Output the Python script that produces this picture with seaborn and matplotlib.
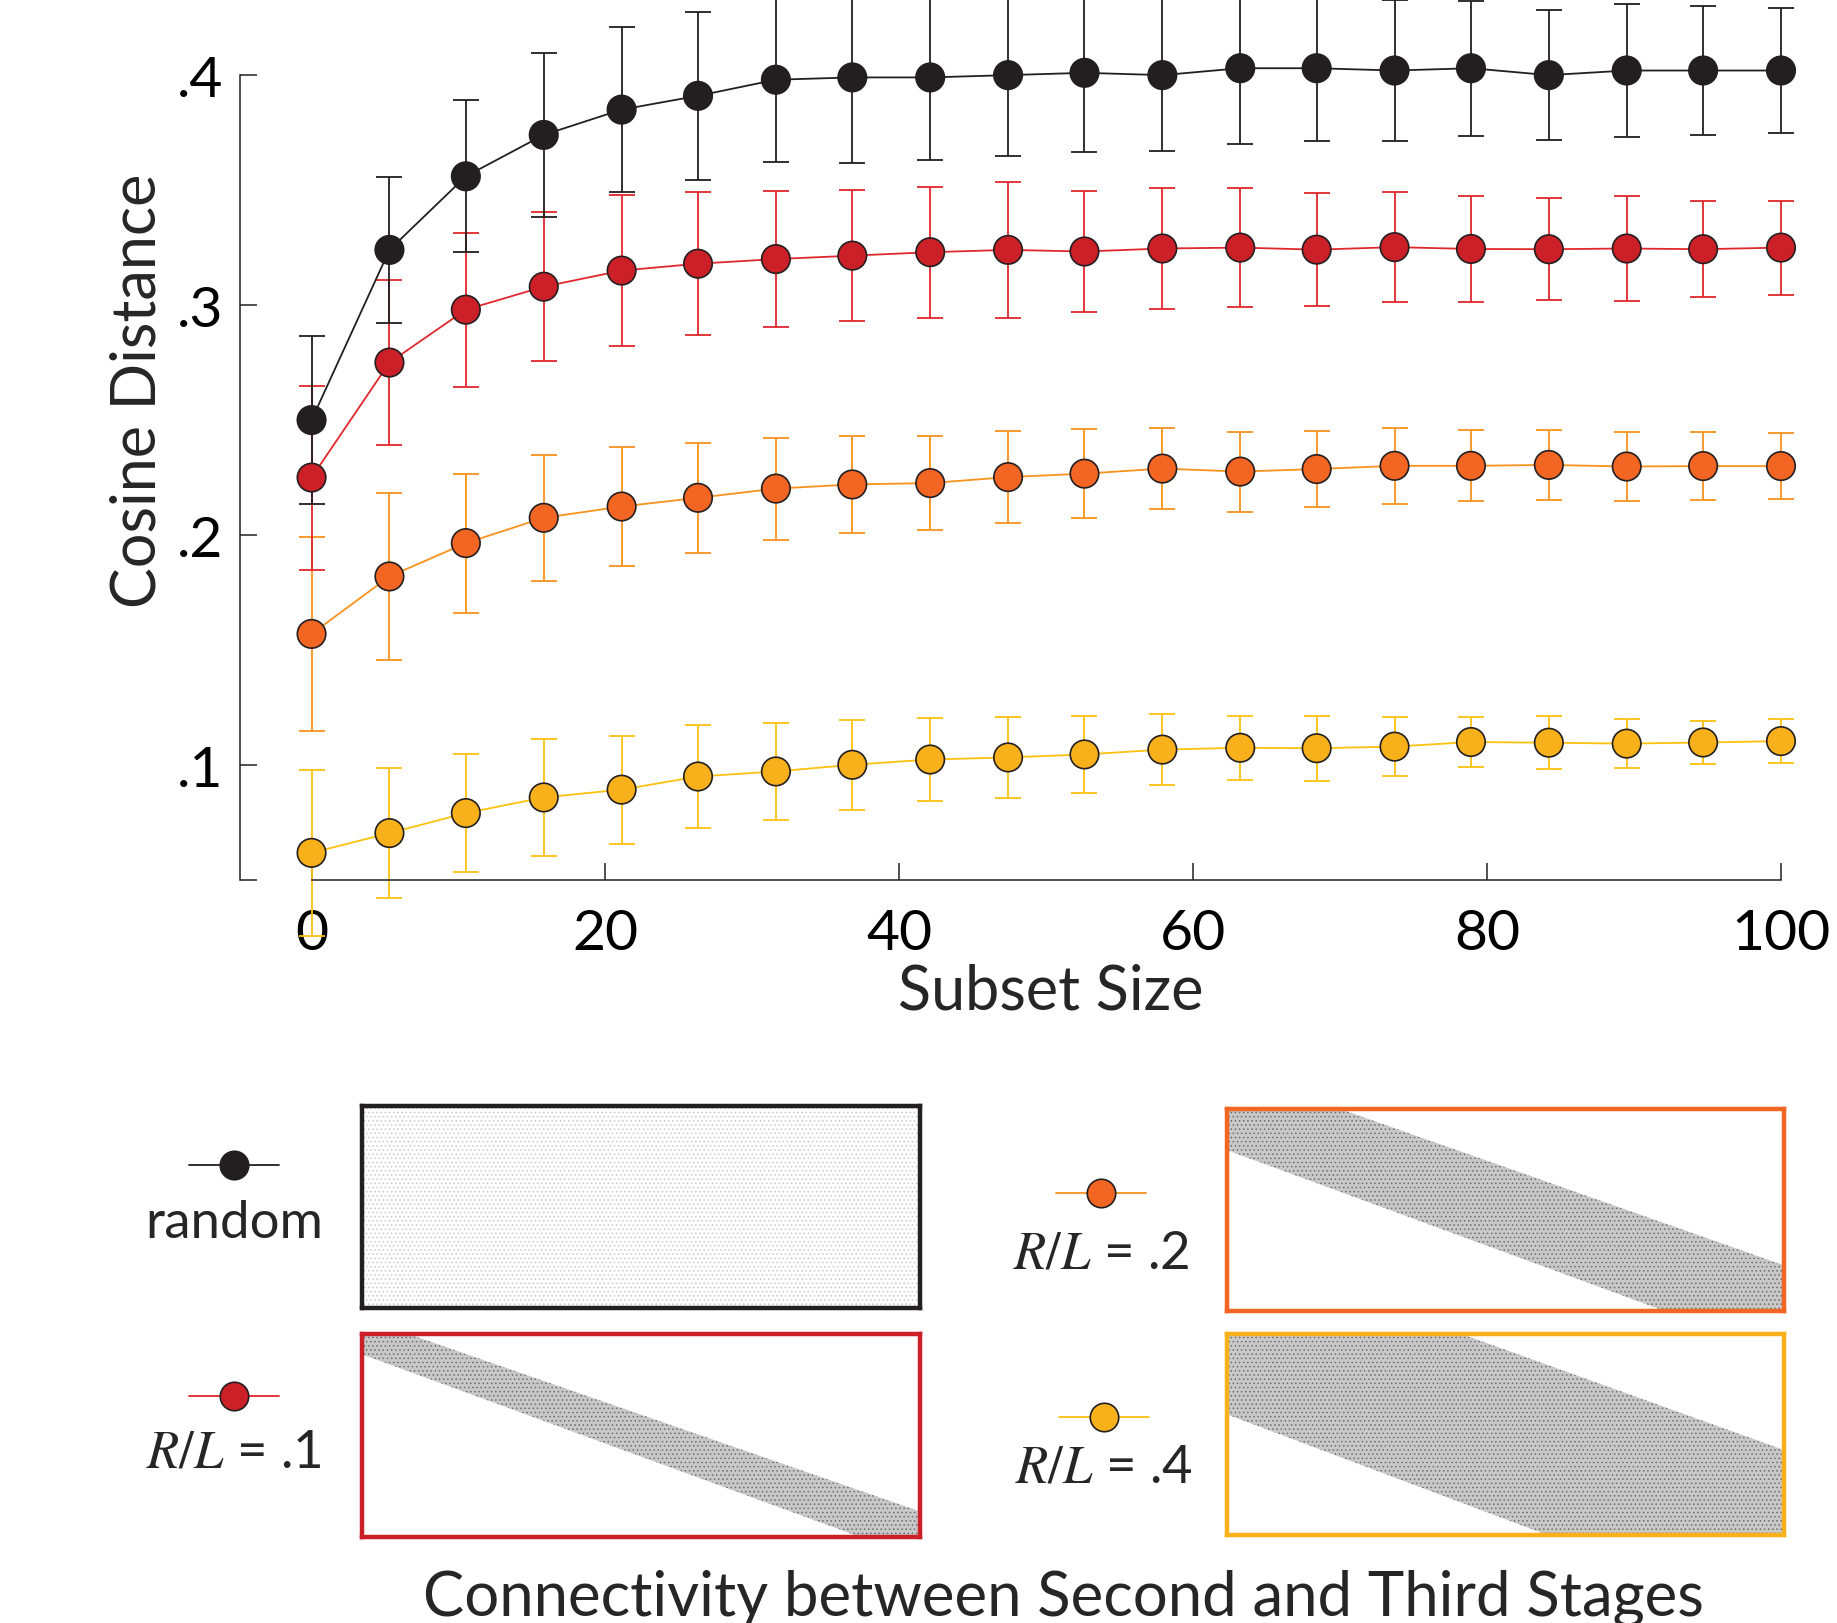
import matplotlib
matplotlib.use("Agg")
import matplotlib.pyplot as plt
from matplotlib.patches import Polygon
import pandas as pd
import seaborn as sns

# ---- data ----
subset_size = [0, 5.3, 10.5, 15.8, 21.1, 26.3, 31.6, 36.8, 42.1, 47.4,
               52.6, 57.9, 63.2, 68.4, 73.7, 78.9, 84.2, 89.5, 94.7, 100]

random_mean = [0.250, 0.324, 0.356, 0.374, 0.385, 0.391, 0.398, 0.399, 0.399, 0.400,
               0.401, 0.400, 0.403, 0.403, 0.402, 0.403, 0.400, 0.402, 0.402, 0.402]
random_err = [0.0367, 0.0318, 0.033, 0.0355, 0.036, 0.0364, 0.0356, 0.0372, 0.0359, 0.0351,
              0.0345, 0.033, 0.0328, 0.0318, 0.0307, 0.0294, 0.0281, 0.0289, 0.0281, 0.0271]

rl1_mean = [0.225, 0.275, 0.298, 0.308, 0.315, 0.318, 0.320, 0.3215, 0.323, 0.324,
            0.3233, 0.3246, 0.325, 0.3241, 0.3252, 0.3244, 0.3243, 0.3246, 0.3243, 0.325]
rl1_err = [0.040, 0.0358, 0.0335, 0.0323, 0.0328, 0.031, 0.0296, 0.0286, 0.0284, 0.0297,
           0.0264, 0.0261, 0.026, 0.0246, 0.024, 0.0229, 0.0223, 0.0227, 0.021, 0.0204]

rl2_mean = [0.157, 0.182, 0.1965, 0.2075, 0.2124, 0.2162, 0.2202, 0.222, 0.2226, 0.2252,
            0.2267, 0.2289, 0.2276, 0.2287, 0.2301, 0.2301, 0.2305, 0.2298, 0.230, 0.230]
rl2_err = [0.0423, 0.0364, 0.0302, 0.0274, 0.0257, 0.0239, 0.0222, 0.021, 0.0203, 0.0199,
           0.0192, 0.0175, 0.0174, 0.0167, 0.0165, 0.0155, 0.0151, 0.0152, 0.0146, 0.0144]

rl4_mean = [0.0618, 0.0704, 0.0791, 0.0859, 0.0893, 0.095, 0.0972, 0.1001, 0.1024, 0.1033,
            0.1046, 0.1067, 0.1075, 0.1073, 0.108, 0.110, 0.1097, 0.1093, 0.1098, 0.1104]
rl4_err = [0.0361, 0.0281, 0.0258, 0.0254, 0.0235, 0.0223, 0.0211, 0.0196, 0.018, 0.0177,
           0.0167, 0.0153, 0.0139, 0.0142, 0.0128, 0.0108, 0.0114, 0.0108, 0.0094, 0.0097]

conditions = ["random", "R/L = .1", "R/L = .2", "R/L = .4"]
legend_labels = ["random", "$R/L$ = .1", "$R/L$ = .2", "$R/L$ = .4"]
x_ticks = [0, 20, 40, 60, 80, 100]
y_ticks = [0.05, 0.1, 0.2, 0.3, 0.4]
y_tick_labels = ["", ".1", ".2", ".3", ".4"]

# connectivity band outlines (fraction of panel width / height from top-left)
band_rl1 = [(0, 0), (0.083, 0), (1, 0.874), (1, 1), (0.893, 1), (0, 0.10)]
band_rl2 = [(0, 0), (0.203, 0), (1, 0.774), (1, 1), (0.786, 1), (0, 0.204)]
band_rl4 = [(0, 0), (0.421, 0), (1, 0.577), (1, 1), (0.575, 1), (0, 0.40)]

face_colors = {"random": "#231f20", "R/L = .1": "#cb2027",
               "R/L = .2": "#f26522", "R/L = .4": "#f8b11a"}
line_colors = {"random": "#231f20", "R/L = .1": "#e0282c",
               "R/L = .2": "#f7921e", "R/L = .4": "#fcc20e"}
edge = "#231f20"

means = dict(zip(conditions, [random_mean, rl1_mean, rl2_mean, rl4_mean]))
errs = dict(zip(conditions, [random_err, rl1_err, rl2_err, rl4_err]))

df = pd.DataFrame({
    "subset": subset_size * 4,
    "dist": random_mean + rl1_mean + rl2_mean + rl4_mean,
    "cond": [c for c in conditions for _ in subset_size],
})

sns.set_theme(style="white")
plt.rcParams["font.family"] = ["Lato", "DejaVu Sans"]
plt.rcParams["mathtext.fontset"] = "stix"
plt.rcParams["hatch.linewidth"] = 0.6

W, H = 1837, 1624
fig = plt.figure(figsize=(W / 100, H / 100), dpi=100)


def px_axes(x0, y0, x1, y1):
    """Axes placed by pixel box (top-left origin)."""
    return fig.add_axes([x0 / W, 1 - y1 / H, (x1 - x0) / W, (y1 - y0) / H])


ax = px_axes(240, 0, 1781, 881)

for cond in reversed(conditions):
    eb = ax.errorbar(subset_size, means[cond], yerr=errs[cond], fmt="none",
                     ecolor=line_colors[cond], elinewidth=1.3, capsize=9.5,
                     capthick=1.3, zorder=2)
    for art in eb.get_children():
        art.set_clip_on(False)

sns.lineplot(data=df, x="subset", y="dist", hue="cond", hue_order=conditions[::-1],
             palette=line_colors, linewidth=1.3, legend=False, sort=False,
             ax=ax, zorder=3)
sns.scatterplot(data=df, x="subset", y="dist", hue="cond", hue_order=conditions[::-1],
                palette=face_colors, s=420, edgecolor=edge, linewidth=1.2,
                legend=False, ax=ax, zorder=4, clip_on=False)

ax.set_xlim(-4.87, 100)
ax.set_ylim(0.05, 0.4331)
sns.despine(ax=ax)
ax.spines["left"].set_bounds(0.05, 0.4)
ax.spines["bottom"].set_bounds(0, 100)
for sp in ("left", "bottom"):
    ax.spines[sp].set_linewidth(1.1)
    ax.spines[sp].set_color("#231f20")
ax.set_xticks(x_ticks)
ax.set_xticklabels([str(t) for t in x_ticks])
ax.set_yticks(y_ticks)
ax.set_yticklabels(y_tick_labels)
ax.tick_params(axis="both", direction="in", length=12, width=1.1, colors="#231f20",
               labelsize=41, labelcolor="black", left=True, bottom=True)
ax.tick_params(axis="x", pad=20)
ax.tick_params(axis="y", pad=12)
ax.set_xlabel("")
ax.set_ylabel("")

# overlay in pixel coordinates for labels and the key
ov = px_axes(0, 0, W, H)
ov.set_xlim(0, W)
ov.set_ylim(H, 0)
ov.axis("off")
ov.set_zorder(-1)

ov.text(1051, 992, "Subset Size", fontsize=44, ha="center", va="center")
ov.text(138, 391, "Cosine Distance", fontsize=44, ha="center", va="center", rotation=90)
ov.text(1063, 1598, "Connectivity between Second and Third Stages", fontsize=44.5,
        ha="center", va="center")

key_pos = {"random": (234, 1166, 1224), "R/L = .1": (234, 1397, 1453),
           "R/L = .2": (1101, 1194, 1254), "R/L = .4": (1104, 1418, 1468)}
for cond, lab in zip(conditions, legend_labels):
    kx, ky, ly = key_pos[cond]
    ov.plot([kx - 45, kx + 45], [ky, ky], color=line_colors[cond], lw=1.3)
    ov.scatter([kx], [ky], s=420, color=face_colors[cond], edgecolor=edge,
               linewidth=1.2, zorder=3)
    ov.text(kx, ly, lab, fontsize=38, ha="center", va="center")

# connectivity panels
panel_boxes = {"random": (362, 1107, 920, 1309), "R/L = .1": (362, 1335, 920, 1538),
               "R/L = .2": (1227, 1110, 1784, 1312), "R/L = .4": (1227, 1335, 1784, 1536)}
bands = {"R/L = .1": band_rl1, "R/L = .2": band_rl2, "R/L = .4": band_rl4}

for cond, box in panel_boxes.items():
    pax = px_axes(*box)
    pax.set_xlim(0, 1)
    pax.set_ylim(1, 0)
    pax.set_xticks([])
    pax.set_yticks([])
    for sp in pax.spines.values():
        sp.set_visible(True)
        sp.set_color(face_colors[cond])
        sp.set_linewidth(3.2)
    if cond == "random":
        pax.add_patch(Polygon([(0, 0), (1, 0), (1, 1), (0, 1)], closed=True,
                              facecolor="white", edgecolor="#c8c8c8", lw=0,
                              hatch="...."))
    else:
        pax.add_patch(Polygon(bands[cond], closed=True, facecolor="#c8c8c8", lw=0))
        pax.add_patch(Polygon(bands[cond], closed=True, facecolor="none",
                              edgecolor="#6e6e6e", lw=0, hatch="...."))

fig.savefig("out.png", dpi=100)
